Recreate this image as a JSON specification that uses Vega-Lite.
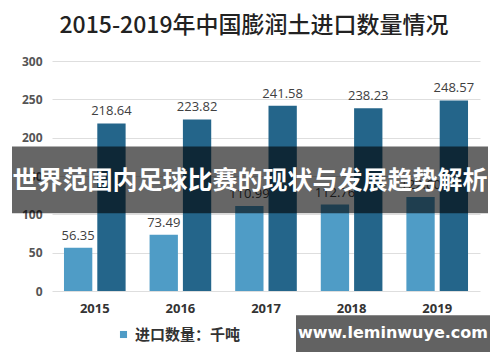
{
  "$schema": "https://vega.github.io/schema/vega-lite/v6.json",
  "width": 428,
  "height": 230,
  "autosize": "none",
  "padding": {"left": 52, "top": 61, "right": 20, "bottom": 71},
  "title": {
    "text": "2015-2019年中国膨润土进口数量情况",
    "font": "Noto Sans CJK SC",
    "fontSize": 23,
    "fontWeight": 500,
    "color": "#222222",
    "anchor": "middle",
    "dx": -12,
    "offset": 17
  },
  "config": {
    "view": {"stroke": null},
    "axisX": {
      "domain": false, "ticks": false, "grid": false,
      "labelFont": "Open Sans", "labelFontSize": 13, "labelFontWeight": "bold",
      "labelColor": "#333333", "labelPadding": 11, "labelAngle": 0, "title": null
    },
    "axisY": {
      "domain": false, "ticks": false, "gridColor": "#dedede",
      "labelFont": "Open Sans", "labelFontSize": 12, "labelFontWeight": "bold",
      "labelColor": "#555555", "labelPadding": 10, "title": null, "tickCount": 6
    }
  },
  "layer": [
    {
      "data": {
        "values": [
          {"year": "2015", "series": "进口数量：千吨", "value": 56.35},
          {"year": "2016", "series": "进口数量：千吨", "value": 73.49},
          {"year": "2017", "series": "进口数量：千吨", "value": 110.99},
          {"year": "2018", "series": "进口数量：千吨", "value": 112.76},
          {"year": "2019", "series": "进口数量：千吨", "value": 122.6},
          {"year": "2015", "series": "进口金额：百万美元", "value": 218.64},
          {"year": "2016", "series": "进口金额：百万美元", "value": 223.82},
          {"year": "2017", "series": "进口金额：百万美元", "value": 241.58},
          {"year": "2018", "series": "进口金额：百万美元", "value": 238.23},
          {"year": "2019", "series": "进口金额：百万美元", "value": 248.57}
        ]
      },
      "encoding": {
        "x": {"field": "year", "type": "nominal", "scale": {"paddingInner": 0.28, "paddingOuter": 0.14}},
        "xOffset": {"field": "series", "type": "nominal", "scale": {"paddingInner": 0.15, "paddingOuter": 0}},
        "y": {"field": "value", "type": "quantitative", "scale": {"domain": [0, 300], "nice": false}}
      },
      "layer": [
        {
          "mark": {"type": "bar"},
          "encoding": {
            "color": {
              "field": "series", "type": "nominal",
              "scale": {"range": ["#4f9cc6", "#24658a"]},
              "legend": {
                "title": null, "orient": "none", "direction": "horizontal",
                "legendX": 64, "legendY": 266,
                "values": ["进口数量：千吨"],
                "symbolType": "square", "symbolSize": 50,
                "labelFont": "Noto Sans CJK SC", "labelFontSize": 15, "labelFontWeight": "bold",
                "labelColor": "#333333"
              }
            }
          }
        },
        {
          "mark": {"type": "text", "dy": -12, "font": "Open Sans", "fontSize": 13, "color": "#404040"},
          "encoding": {"text": {"field": "value", "type": "quantitative", "format": ".2f"}}
        }
      ]
    },
    {
      "data": {
        "values": [
          {"kind": "banner", "x": -40, "x2": 436, "y": 101.5, "y2": 188.5, "tx": 198, "ty": 143, "label": "世界范围内足球比赛的现状与发展趋势解析"},
          {"kind": "mark", "x": 244, "x2": 438, "y": -31.5, "y2": -79.5, "tx": 341, "ty": -55, "label": "www.leminwuye.com"}
        ]
      },
      "layer": [
        {
          "transform": [{"filter": "datum.kind === 'banner'"}],
          "mark": {"type": "rect", "color": "#000000", "opacity": 0.6},
          "encoding": {
            "x": {"field": "x", "type": "quantitative", "scale": {"domain": [0, 428], "nice": false}, "axis": null},
            "x2": {"field": "x2"},
            "y": {"field": "y", "type": "quantitative", "scale": {"domain": [0, 300], "nice": false}},
            "y2": {"field": "y2"}
          }
        },
        {
          "transform": [{"filter": "datum.kind === 'mark'"}],
          "mark": {"type": "rect", "color": "#585858", "opacity": 0.94},
          "encoding": {
            "x": {"field": "x", "type": "quantitative", "scale": {"domain": [0, 428], "nice": false}, "axis": null},
            "x2": {"field": "x2"},
            "y": {"field": "y", "type": "quantitative", "scale": {"domain": [0, 300], "nice": false}},
            "y2": {"field": "y2"}
          }
        },
        {
          "transform": [{"filter": "datum.kind === 'banner'"}],
          "mark": {"type": "text", "font": "Noto Sans CJK SC", "fontSize": 25, "fontWeight": "bold", "color": "#ffffff", "baseline": "middle"},
          "encoding": {
            "x": {"field": "tx", "type": "quantitative", "scale": {"domain": [0, 428], "nice": false}, "axis": null},
            "y": {"field": "ty", "type": "quantitative", "scale": {"domain": [0, 300], "nice": false}},
            "text": {"field": "label"}
          }
        },
        {
          "transform": [{"filter": "datum.kind === 'mark'"}],
          "mark": {"type": "text", "font": "DejaVu Sans", "fontSize": 16, "fontWeight": "bold", "color": "#ffffff", "baseline": "middle"},
          "encoding": {
            "x": {"field": "tx", "type": "quantitative", "scale": {"domain": [0, 428], "nice": false}, "axis": null},
            "y": {"field": "ty", "type": "quantitative", "scale": {"domain": [0, 300], "nice": false}},
            "text": {"field": "label"}
          }
        }
      ]
    }
  ],
  "resolve": {"scale": {"x": "independent"}}
}
